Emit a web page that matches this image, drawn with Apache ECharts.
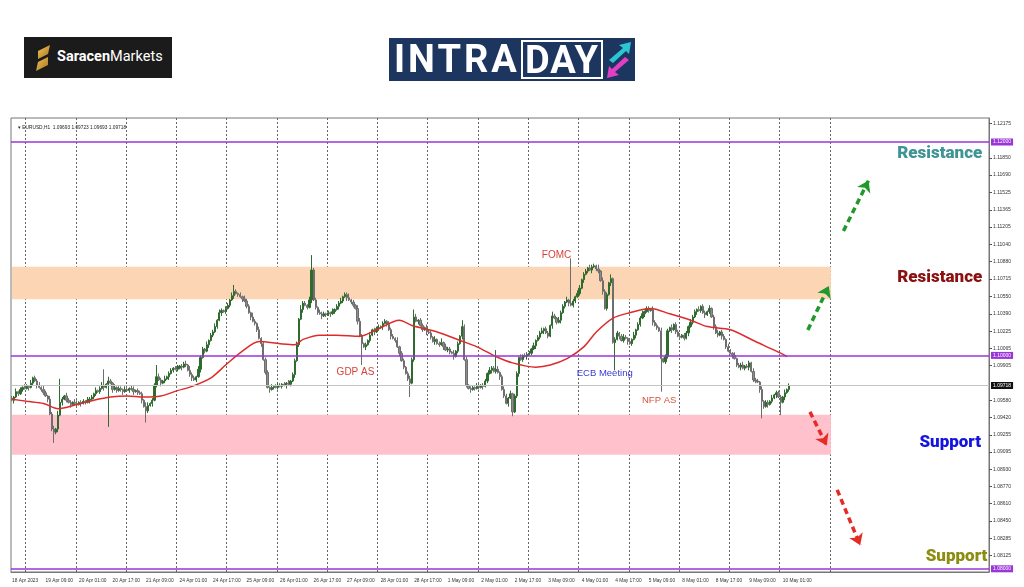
<!DOCTYPE html>
<html>
<head>
<meta charset="utf-8">
<script src="https://cdn.jsdelivr.net/npm/echarts@6/dist/echarts.min.js"></script>
<style>
html, body { margin: 0; padding: 0; background: #fff; }
#wrap { position: relative; width: 1024px; height: 587px; overflow: hidden; }
#chart { position: absolute; left: 0; top: 0; width: 1024px; height: 587px; }
.logo-sm { position: absolute; left: 24px; top: 37px; width: 148px; height: 41px; background: #1b1b1b; z-index: 2; }
.logo-sm svg { position: absolute; left: 11px; top: 8px; }
.logo-sm .txt { position: absolute; left: 33px; top: 12px; font: 14.5px/16px 'Roboto', sans-serif; color: #fff; }
.logo-id { position: absolute; left: 389px; top: 38px; width: 246px; height: 43px; background: #1d365f; z-index: 2; }
.logo-id .intra { position: absolute; left: 5px; top: 2px; font: bold 38px/39px 'Roboto', sans-serif; color: #fff; letter-spacing: 3px; }
.logo-id .day { position: absolute; left: 132px; top: 2px; width: 78px; height: 35px; border: 2px solid #fff; font: bold 38px/36px 'Roboto', sans-serif; color: #fff; letter-spacing: 1px; text-align: center; }
.logo-id svg { position: absolute; left: 216px; top: 2px; }
</style>
</head>
<body>
<div id="wrap">
    <div id="chart"></div>
    <div class="logo-sm">
        <svg width="16" height="26" viewBox="0 0 16 26">
            <defs>
                <linearGradient id="gold" x1="0" y1="0" x2="1" y2="1">
                    <stop offset="0" stop-color="#f3c55a"/>
                    <stop offset="1" stop-color="#a8741c"/>
                </linearGradient>
            </defs>
            <path d="M15 0 L3 6 L3 14 L13 9 Z" fill="url(#gold)"/>
            <path d="M1 26 L13 20 L13 12 L3 17 Z" fill="url(#gold)"/>
        </svg>
        <span class="txt"><b>Saracen</b>Markets</span>
    </div>
    <div class="logo-id">
        <span class="intra">INTRA</span>
        <span class="day">DAY</span>
        <svg width="28" height="40" viewBox="0 0 28 40">
            <path d="M4 20 L18 8 L14 5 L26 2 L24 14 L21 11 L8 23 Z" fill="#2cc6d2"/>
            <path d="M24 20 L10 32 L14 35 L2 38 L4 26 L7 29 L20 17 Z" fill="#e23fc4"/>
        </svg>
    </div>
</div>
<script>
// prices are kept as pips above 1.0900
const BASE = 1.09

// hourly closes, 18 Apr 17:00 -> 10 May 04:00
const closePips = [
    58, 61, 66, 64, 68, 70, 69,
    71, 70, 74, 79, 76, 72, 70, 68, 65, 62, 59, 45, 31, 28, 31, 44, 56, 59, 62, 58, 56, 54, 56, 55,
    54, 56, 55, 57, 56, 58, 59, 61, 64, 67, 66, 69, 72, 70, 73, 76, 74, 68, 70, 67, 69, 68, 66, 68,
    67, 69, 68, 66, 67, 65, 64, 58, 52, 48, 53, 55, 58, 72, 80, 77, 74, 76, 78, 80, 83, 86, 88, 87,
    88, 90, 89, 92, 91, 86, 82, 79, 77, 80, 87, 98, 106, 104, 110, 114, 119, 122, 127, 133, 140, 142, 141, 144,
    147, 152, 156, 160, 158, 157, 155, 153, 151, 146, 140, 136, 132, 130, 124, 116, 111, 96, 84, 70, 68, 70, 71, 70,
    72, 71, 73, 72, 74, 73, 76, 82, 95, 110, 134, 143, 149, 147, 145, 152, 180, 152, 145, 140, 139, 137, 139, 138,
    140, 139, 141, 143, 146, 149, 151, 155, 157, 154, 152, 150, 147, 144, 132, 118, 111, 108, 110, 114, 119, 124, 122, 125,
    126, 127, 130, 132, 129, 124, 118, 116, 114, 108, 102, 95, 89, 83, 78, 74, 96, 136, 132, 133, 128, 124, 126, 122,
    121, 117, 113, 115, 111, 110, 112, 108, 105, 106, 103, 102, 99, 104, 111, 118, 127, 96, 72, 69, 68, 70, 69, 71,
    70, 72, 71, 76, 83, 86, 88, 85, 87, 84, 80, 68, 62, 55, 60, 64, 47, 62, 83, 98, 96, 100, 99, 101,
    102, 106, 109, 114, 117, 121, 123, 125, 121, 118, 128, 137, 135, 131, 133, 140, 146, 150, 152, 149, 147, 151, 155, 158,
    163, 171, 176, 179, 182, 180, 183, 184, 181, 179, 170, 160, 144, 157, 168, 172, 112, 115, 121, 118, 114, 117, 116, 113,
    111, 115, 119, 124, 129, 135, 139, 141, 144, 142, 143, 131, 128, 126, 123, 97, 94, 99, 123, 126, 124, 129, 122, 118,
    117, 119, 116, 121, 127, 131, 136, 141, 143, 142, 146, 140, 138, 141, 144, 136, 127, 121, 119, 122, 118, 115, 108, 104,
    102, 100, 97, 91, 89, 91, 88, 90, 89, 93, 85, 77, 76, 75, 68, 57, 52, 56, 54, 57, 60, 63, 65, 61,
    56, 61, 65, 68, 71.8
]
const firstOpen = 60

// wick length above / below the body, pips, one digit per bar
const wickUpDigits =
    '2131213' +
    '213122314213231412132213' +
    '312213221312321421312213' +
    '213312221431221321312212' +
    '312231422132213122313212' +
    '213321213221421312221312' +
    '321213122314221312213221' +
    '213122312241213321213122' +
    '312213221312212321312213' +
    '221312413221312122312213' +
    '312213221312321312213122' +
    '213122312214213221312213' +
    '312213221413221312212321' +
    '213122312213221312213122' +
    '312213221312213122312213' +
    '213122312213221312213122' +
    '21312'
const wickDnDigits =
    '1312121' +
    '131213122131212313121312' +
    '213121312212131213121231' +
    '121312131221312131213121' +
    '213121231213121312121312' +
    '121312131213122131213121' +
    '212131213121312131221312' +
    '131213121312213121312131' +
    '213121312131212312131213' +
    '121312131221312131213121' +
    '213121312131213121231213' +
    '121312131213121312131221' +
    '213121312213121312131213' +
    '121312131213121312213121' +
    '212131213121312131213121' +
    '131213121312213121312131' +
    '21312'
// long wicks [bar, pips]
const spikeHighs = [[23, 78], [44, 87], [69, 91], [106, 166], [143, 194], [192, 143], [215, 133], [231, 105], [267, 191], [286, 176]]
const spikeLows = [[20, 18], [46, 33], [64, 37], [167, 91], [190, 61], [239, 43], [288, 86], [310, 66], [358, 41], [367, 44]]

// red moving average read at [bar, pips]
const maPoints = [
    [0, 59], [7, 57], [15, 55], [22, 50], [31, 54], [39, 58], [47, 61], [55, 62], [63, 61], [71, 62],
    [79, 67], [86, 71], [95, 79], [102, 91], [110, 104], [118, 113], [128, 111], [135, 110], [139, 115],
    [147, 119], [155, 119], [166, 118], [174, 124], [185, 133], [191, 128], [203, 122], [214, 114],
    [222, 108], [231, 99], [239, 93], [250, 89], [257, 91], [265, 97], [273, 108], [279, 122], [287, 135],
    [295, 140], [305, 144], [314, 139], [324, 133], [332, 127], [343, 124], [355, 113], [365, 104], [370, 99]
]

// visible price-scale labels (the ones under the price tags are covered in the original)
const yTicks = [1.08125, 1.08285, 1.08450, 1.08610, 1.08770, 1.08930, 1.09095, 1.09255, 1.09420, 1.09580,
    1.09905, 1.10065, 1.10225, 1.10390, 1.10550, 1.10715, 1.10880, 1.11040, 1.11205, 1.11365,
    1.11525, 1.11690, 1.11850, 1.12175]

const tradingDays = ['18 Apr', '19 Apr', '20 Apr', '21 Apr', '24 Apr', '25 Apr', '26 Apr', '27 Apr', '28 Apr',
    '1 May', '2 May', '3 May', '4 May', '5 May', '8 May', '9 May', '10 May', '11 May', '12 May', '15 May', '16 May', '17 May']

const levels = [1.12, 1.10, 1.08]
const lastPrice = 1.09718
const resistanceZone = [1.10526, 1.10832]
const supportZone = [1.09068, 1.09443]

const slotCount = 467
const zoneEnd = 391

let categories = []
tradingDays.forEach((d, di) => {
    for (let h = di === 0 ? 17 : 0; h < 24; h++) {
        if (categories.length < slotCount) categories.push(d + ' ' + (h < 10 ? '0' : '') + h + ':00')
    }
})
const lastBar = closePips.length - 1

const toPrice = p => +(BASE + p / 10000).toFixed(5)
let candles = closePips.map((c, i) => {
    let o = i ? closePips[i - 1] : firstOpen
    let hi = Math.max(o, c) + Number(wickUpDigits.charAt(i) || 1)
    let lo = Math.min(o, c) - Number(wickDnDigits.charAt(i) || 1)
    return [o, c, lo, hi]
})
spikeHighs.forEach(s => { candles[s[0]][3] = Math.max(candles[s[0]][3], s[1]) })
spikeLows.forEach(s => { candles[s[0]][2] = Math.min(candles[s[0]][2], s[1]) })
candles = candles.map(c => c.map(toPrice))

const labelEvery = (index) => index % 16 === 0 && index <= lastBar
const dayStart = (index, value) => index > 0 && index <= zoneEnd && / 00:00$/.test(value)

const arrow = (x1, y1, x2, y2, color) => [
    { coord: [x1, y1], symbol: 'none', lineStyle: { color: color, width: 3.5, type: [6, 4] } },
    { coord: [x2, y2], symbol: 'arrow', symbolSize: 11 }
]
const note = (x, y, text, color, size, weight) => ({
    coord: [x, y],
    symbol: 'circle',
    symbolSize: 1,
    itemStyle: { color: 'rgba(0,0,0,0)' },
    label: {
        show: true, position: 'inside', formatter: text, color: color,
        fontSize: size, fontWeight: weight || 'normal',
        fontFamily: weight ? 'Roboto' : 'Liberation Sans'
    }
})
const priceTag = (value, bg, lineColor, width) => ({
    yAxis: value,
    lineStyle: { color: lineColor, width: width, type: 'solid' },
    label: {
        position: 'end', distance: 2, formatter: value.toFixed(5),
        backgroundColor: bg, color: '#fff', fontSize: 5, padding: [1, 2],
        fontFamily: 'Liberation Sans'
    }
})

const option = {
    animation: false,
    title: {
        text: '\u25BE EURUSD,H1  1.09693 1.09723 1.09693 1.09718',
        left: 13, top: 120,
        textStyle: { fontSize: 4.8, fontWeight: 'normal', color: '#222', fontFamily: 'Liberation Sans' }
    },
    grid: {
        left: 11, right: 35, top: 118, bottom: 15,
        show: true, borderColor: '#777', borderWidth: 1, backgroundColor: '#fff'
    },
    xAxis: {
        type: 'category',
        data: categories,
        boundaryGap: true,
        axisLine: { lineStyle: { color: '#777' } },
        axisTick: { interval: labelEvery, alignWithLabel: true, length: 3, lineStyle: { color: '#555' } },
        axisLabel: {
            interval: labelEvery,
            showMinLabel: true,
            align: 'left',
            margin: 6,
            fontSize: 4.8,
            color: '#333',
            fontFamily: 'Liberation Sans',
            formatter: (v, i) => i === 0 ? '18 Apr 2023' : v
        },
        splitLine: { show: true, interval: dayStart, lineStyle: { color: '#666', width: 1, type: [2, 2] } }
    },
    yAxis: {
        type: 'value',
        position: 'right',
        min: 1.0797,
        max: 1.12225,
        axisLine: { show: true, lineStyle: { color: '#777' } },
        axisTick: { show: true, length: 3, customValues: yTicks, lineStyle: { color: '#555' } },
        axisLabel: {
            customValues: yTicks,
            margin: 4,
            fontSize: 5,
            color: '#333',
            fontFamily: 'Liberation Sans',
            formatter: v => v.toFixed(5)
        },
        splitLine: { show: false }
    },
    series: [
        {
            name: 'zones',
            type: 'line',
            data: [],
            z: 1,
            silent: true,
            markArea: {
                silent: true,
                data: [
                    [{ xAxis: 0, yAxis: resistanceZone[0], itemStyle: { color: '#fcd5b4' } }, { xAxis: zoneEnd, yAxis: resistanceZone[1] }],
                    [{ xAxis: 0, yAxis: supportZone[0], itemStyle: { color: '#ffc1cc' } }, { xAxis: zoneEnd, yAxis: supportZone[1] }]
                ]
            }
        },
        {
            name: 'last',
            type: 'line',
            data: [],
            z: 2,
            silent: true,
            markLine: {
                silent: true,
                symbol: 'none',
                precision: 5,
                data: [priceTag(lastPrice, '#111', '#c4c4c4', 1)]
            }
        },
        {
            name: 'EURUSD,H1',
            type: 'candlestick',
            data: candles,
            z: 3,
            barWidth: 1.7,
            itemStyle: {
                color: '#2f6b2f',
                color0: '#8c8c8c',
                borderColor: '#2f6b2f',
                borderColor0: '#6e6e6e',
                borderWidth: 1
            }
        },
        {
            name: 'MA',
            type: 'line',
            data: maPoints.map(p => [p[0], toPrice(p[1])]),
            z: 4,
            smooth: 0.3,
            symbol: 'none',
            lineStyle: { color: '#dd2b2b', width: 1.5 }
        },
        {
            name: 'marks',
            type: 'line',
            data: [],
            z: 5,
            silent: true,
            markLine: {
                silent: true,
                symbol: 'none',
                precision: 5,
                data: levels.map(l => priceTag(l, '#9a35d8', '#9a35d8', 1.5))
                    .concat([
                        arrow(380, 1.10239, 390, 1.10650, '#1f9a2a'),
                        arrow(397, 1.11166, 409, 1.11640, '#1f9a2a'),
                        arrow(381, 1.09471, 389, 1.09155, '#e52b24'),
                        arrow(394, 1.08740, 405, 1.08220, '#e52b24')
                    ])
            },
            markPoint: {
                silent: true,
                data: [
                    note(260, 1.10943, 'FOMC', '#d6423a', 10),
                    note(164, 1.09845, 'GDP AS', '#d6423a', 10),
                    note(283, 1.09827, 'ECB Meeting', '#3a3ad2', 9.5),
                    note(309, 1.09583, 'NFP AS', '#d6553c', 9.5),
                    note(443, 1.11888, 'Resistance', '#3f9494', 17, 900),
                    note(443, 1.10726, 'Resistance', '#8b1010', 17, 900),
                    note(448, 1.09180, 'Support', '#1414e0', 17, 900),
                    note(451, 1.08112, 'Support', '#8c8c10', 17, 900)
                ]
            }
        }
    ]
}

const chart = echarts.init(document.getElementById('chart'))
chart.setOption(option)
</script>
</body>
</html>
